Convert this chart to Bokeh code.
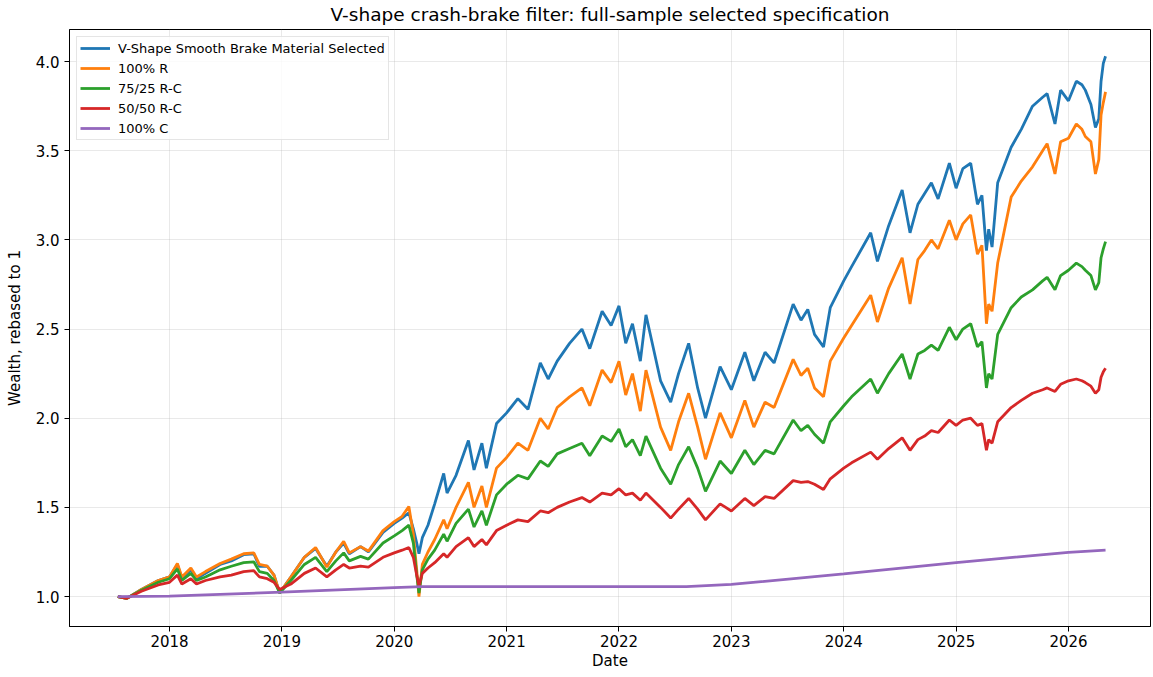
from bokeh.plotting import figure
from bokeh.models import FixedTicker, NumeralTickFormatter, Range1d, Legend, LegendItem, Title
from bokeh.embed import file_html
from bokeh.resources import INLINE

# ---- data (decimal years) ----
dates = [2017.54, 2017.62, 2017.75, 2017.90, 2018.00, 2018.07, 2018.11, 2018.19, 2018.24, 2018.32,
         2018.45, 2018.55, 2018.66, 2018.75, 2018.80, 2018.87, 2018.93, 2018.98, 2019.08, 2019.20,
         2019.30, 2019.40, 2019.48, 2019.55, 2019.60, 2019.70, 2019.77, 2019.90, 2020.00, 2020.07,
         2020.13, 2020.17, 2020.20, 2020.22, 2020.25, 2020.30, 2020.36, 2020.44, 2020.47, 2020.55,
         2020.66, 2020.71, 2020.78, 2020.82, 2020.91, 2021.00, 2021.10, 2021.19, 2021.30, 2021.37,
         2021.45, 2021.56, 2021.67, 2021.74, 2021.85, 2021.93, 2022.00, 2022.06, 2022.12, 2022.19,
         2022.24, 2022.37, 2022.46, 2022.53, 2022.62, 2022.70, 2022.77, 2022.90, 2023.00, 2023.12,
         2023.20, 2023.30, 2023.38, 2023.55, 2023.62, 2023.68, 2023.74, 2023.82, 2023.88, 2024.00,
         2024.07, 2024.24, 2024.30, 2024.40, 2024.52, 2024.59, 2024.66, 2024.72, 2024.78, 2024.84,
         2024.94, 2025.00, 2025.06, 2025.13, 2025.19, 2025.23, 2025.27, 2025.29, 2025.32, 2025.37,
         2025.49, 2025.58, 2025.68, 2025.77, 2025.81, 2025.88, 2025.93, 2026.00, 2026.07, 2026.12,
         2026.15, 2026.20, 2026.24, 2026.27, 2026.29, 2026.31, 2026.33]

v_shape = [1.00, 0.99, 1.04, 1.09, 1.11, 1.18, 1.10, 1.15, 1.10, 1.13,
           1.18, 1.20, 1.235, 1.24, 1.17, 1.17, 1.12, 1.02, 1.11, 1.22,
           1.27, 1.17, 1.25, 1.30, 1.24, 1.28, 1.25, 1.36, 1.41, 1.44,
           1.47, 1.38, 1.30, 1.24, 1.33, 1.40, 1.52, 1.69, 1.58, 1.68,
           1.875, 1.71, 1.86, 1.72, 1.97, 2.03, 2.11, 2.05, 2.31, 2.22,
           2.32, 2.42, 2.50, 2.39, 2.60, 2.52, 2.63, 2.42, 2.53, 2.32,
           2.58, 2.21, 2.09, 2.25, 2.42, 2.17, 2.00, 2.29, 2.16, 2.37,
           2.21, 2.37, 2.31, 2.64, 2.55, 2.61, 2.47, 2.40, 2.62, 2.77,
           2.85, 3.04, 2.88, 3.08, 3.28, 3.04, 3.20, 3.26, 3.32, 3.23,
           3.43, 3.29, 3.40, 3.43, 3.20, 3.25, 2.94, 3.06, 2.96, 3.32,
           3.52, 3.62, 3.75, 3.80, 3.82, 3.65, 3.84, 3.78, 3.89, 3.87,
           3.84, 3.76, 3.63, 3.68, 3.89, 3.99, 4.03]

r_100 = [1.00, 0.99, 1.04, 1.09, 1.11, 1.185, 1.11, 1.16, 1.11, 1.14,
         1.185, 1.21, 1.24, 1.245, 1.18, 1.17, 1.12, 1.02, 1.11, 1.22,
         1.275, 1.165, 1.25, 1.31, 1.245, 1.28, 1.255, 1.37, 1.42, 1.45,
         1.505, 1.35, 1.15, 1.00, 1.18, 1.25, 1.32, 1.43, 1.38, 1.50,
         1.64, 1.50, 1.62, 1.50, 1.72, 1.78, 1.86, 1.82, 2.00, 1.94,
         2.06, 2.12, 2.17, 2.07, 2.27, 2.20, 2.32, 2.13, 2.25, 2.04,
         2.27, 1.95, 1.82, 1.98, 2.14, 1.95, 1.77, 2.03, 1.89, 2.10,
         1.95, 2.09, 2.06, 2.33, 2.24, 2.28, 2.17, 2.12, 2.32, 2.45,
         2.52, 2.69, 2.54, 2.73, 2.90, 2.64, 2.89, 2.94, 3.00, 2.95,
         3.11, 3.00, 3.09, 3.14, 2.92, 2.97, 2.53, 2.64, 2.60, 2.87,
         3.24, 3.33, 3.41, 3.50, 3.54, 3.37, 3.55, 3.57, 3.65, 3.62,
         3.58, 3.55, 3.37, 3.45, 3.70, 3.77, 3.83]

rc_75_25 = [1.00, 0.99, 1.035, 1.08, 1.10, 1.155, 1.09, 1.13, 1.09, 1.11,
            1.15, 1.17, 1.19, 1.195, 1.14, 1.13, 1.09, 1.02, 1.09, 1.18,
            1.22, 1.14, 1.20, 1.245, 1.20, 1.225, 1.21, 1.30, 1.34, 1.37,
            1.40, 1.30, 1.12, 1.02, 1.15, 1.21, 1.26, 1.35, 1.31, 1.41,
            1.49, 1.39, 1.48, 1.40, 1.57, 1.63, 1.68, 1.66, 1.76, 1.73,
            1.80, 1.83, 1.86, 1.79, 1.90, 1.87, 1.94, 1.84, 1.88, 1.79,
            1.90, 1.72, 1.63, 1.74, 1.84, 1.72, 1.59, 1.76, 1.69, 1.82,
            1.74, 1.82, 1.80, 1.99, 1.93, 1.96, 1.91, 1.86, 1.98, 2.07,
            2.12, 2.22, 2.14, 2.25, 2.36, 2.22, 2.36, 2.38, 2.41, 2.38,
            2.51, 2.44, 2.50, 2.53, 2.40, 2.43, 2.17, 2.25, 2.22, 2.47,
            2.62, 2.68, 2.72, 2.77, 2.79, 2.72, 2.80, 2.83, 2.87, 2.85,
            2.83, 2.80, 2.72, 2.76, 2.90, 2.95, 2.99]

rc_50_50 = [1.00, 0.99, 1.03, 1.065, 1.08, 1.12, 1.07, 1.10, 1.07, 1.09,
            1.11, 1.12, 1.14, 1.145, 1.11, 1.10, 1.08, 1.04, 1.07, 1.13,
            1.16, 1.11, 1.15, 1.18, 1.16, 1.17, 1.165, 1.22, 1.245, 1.26,
            1.275, 1.22, 1.12, 1.06, 1.13, 1.16, 1.19, 1.24, 1.22, 1.28,
            1.33, 1.28, 1.32, 1.29, 1.37, 1.40, 1.43, 1.42, 1.48, 1.47,
            1.50, 1.53, 1.555, 1.53, 1.58, 1.57, 1.605, 1.57, 1.58, 1.54,
            1.58, 1.50, 1.44, 1.49, 1.55, 1.49, 1.43, 1.52, 1.48, 1.55,
            1.51, 1.56, 1.55, 1.65, 1.64, 1.645, 1.63, 1.60, 1.66, 1.72,
            1.75, 1.81, 1.77, 1.83, 1.89, 1.82, 1.88, 1.90, 1.93, 1.92,
            1.99, 1.96, 1.99, 2.00, 1.96, 1.97, 1.82, 1.88, 1.86, 1.98,
            2.06, 2.10, 2.14, 2.16, 2.17, 2.15, 2.19, 2.21, 2.22, 2.21,
            2.20, 2.18, 2.14, 2.16, 2.23, 2.26, 2.28]

c_dates = [2017.54, 2018.00, 2019.00, 2020.00, 2020.25, 2022.60, 2023.00, 2024.00, 2025.00, 2026.00, 2026.33]
c_100 = [1.000, 1.002, 1.025, 1.050, 1.056, 1.056, 1.068, 1.127, 1.190, 1.248, 1.260]

year_ticks = [2018, 2019, 2020, 2021, 2022, 2023, 2024, 2025, 2026]
y_ticks = [1.0, 1.5, 2.0, 2.5, 3.0, 3.5, 4.0]

series = [
    ("V-Shape Smooth Brake Material Selected", dates, v_shape, "#1f77b4"),
    ("100% R", dates, r_100, "#ff7f0e"),
    ("75/25 R-C", dates, rc_75_25, "#2ca02c"),
    ("50/50 R-C", dates, rc_50_50, "#d62728"),
    ("100% C", c_dates, c_100, "#9467bd"),
]

FONT = "DejaVu Sans"

p = figure(width=1153, height=677, output_backend="svg", toolbar_location=None,
           x_range=Range1d(2017.11, 2026.73), y_range=Range1d(0.832, 4.18),
           min_border_left=69, min_border_right=3, min_border_top=29, min_border_bottom=51)

p.title = Title(text="V-shape crash-brake filter: full-sample selected specification",
                align="center", vertical_align="top", text_font=FONT, text_font_size="18.5px",
                text_font_style="normal", text_color="black", standoff=5, offset=0)

items = []
for name, xs, ys, col in series:
    r = p.line(xs, ys, line_color=col, line_width=2.8)
    items.append(LegendItem(label=name, renderers=[r]))

legend = Legend(items=items, location="top_left", label_text_font=FONT,
                label_text_font_size="13px", label_text_color="black",
                glyph_width=30, glyph_height=16, label_height=16, spacing=4,
                padding=3, margin=7, label_standoff=8,
                border_line_color="#cccccc", border_line_width=1,
                background_fill_color="white", background_fill_alpha=0.8)
p.add_layout(legend)

p.xaxis.ticker = FixedTicker(ticks=year_ticks)
p.xaxis.formatter = NumeralTickFormatter(format="0")
p.yaxis.ticker = FixedTicker(ticks=y_ticks)
p.yaxis.formatter = NumeralTickFormatter(format="0.0")

for ax in (p.xaxis[0], p.yaxis[0]):
    ax.major_tick_out = 5
    ax.major_tick_in = 0
    ax.minor_tick_out = 0
    ax.minor_tick_in = 0
    ax.major_label_text_font = FONT
    ax.major_label_text_font_size = "15px"
    ax.major_label_text_color = "black"
    ax.axis_label_text_font = FONT
    ax.axis_label_text_font_size = "15px"
    ax.axis_label_text_font_style = "normal"
    ax.axis_label_text_color = "black"
    ax.axis_line_color = "black"
    ax.major_tick_line_color = "black"

p.xaxis.major_label_standoff = 3
p.yaxis.major_label_standoff = 5
p.xaxis.axis_label = "Date"
p.yaxis.axis_label = "Wealth, rebased to 1"
p.xaxis.axis_label_standoff = 2
p.yaxis.axis_label_standoff = 9

p.outline_line_color = "black"
p.outline_line_width = 1
p.outline_line_alpha = 1

p.xgrid.grid_line_color = "#b0b0b0"
p.ygrid.grid_line_color = "#b0b0b0"
p.xgrid.grid_line_alpha = 0.35
p.ygrid.grid_line_alpha = 0.35
p.xgrid.grid_line_width = 0.8
p.ygrid.grid_line_width = 0.8

p.background_fill_color = "white"
p.border_fill_color = "white"

open("out.html", "w").write(file_html(p, INLINE))
